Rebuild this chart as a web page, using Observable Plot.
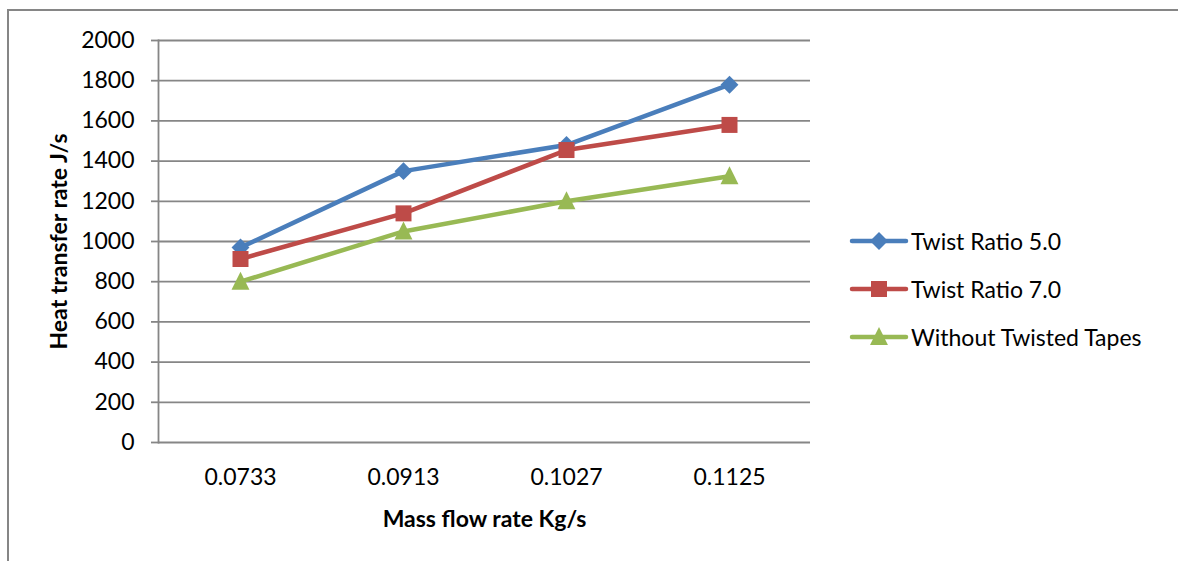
<!DOCTYPE html>
<html><head><meta charset="utf-8">
<script src="https://cdn.jsdelivr.net/npm/d3@7"></script>
<script src="https://cdn.jsdelivr.net/npm/@observablehq/plot@0.6"></script>
<style>
body{margin:0;background:#fff;}
#wrap{position:relative;width:1178px;height:561px;overflow:hidden;font-family:Lato,"Open Sans",sans-serif;}
#border{position:absolute;left:7px;top:9px;width:1190px;height:580px;border-top:2px solid #868686;border-left:2px solid #868686;}
#chart{position:absolute;left:0;top:0;}
#chart svg{overflow:visible;}
#legend{position:absolute;left:849px;top:217px;font-size:23px;color:#000;}
.item{display:flex;align-items:center;height:48px;}
.item svg{margin-right:2px;}
</style></head>
<body><div id="wrap"><div id="border"></div><div id="chart"></div><div id="legend"></div></div>
<script>
const categories = ["0.0733","0.0913","0.1027","0.1125"];
const seriesNames = ["Twist Ratio 5.0","Twist Ratio 7.0","Without Twisted Tapes"];
const twist5 = [970,1350,1480,1780];
const twist7 = [913,1140,1455,1580];
const withoutTapes = [800,1050,1200,1325];
const yTicks = [0,200,400,600,800,1000,1200,1400,1600,1800,2000];
const colors = ["#4a7ebb","#be4b48","#98b954"];
const xTitle = "Mass flow rate Kg/s";
const yTitle = "Heat transfer rate J/s";

const seriesValues = [twist5, twist7, withoutTapes];
const rows = seriesNames.flatMap((s,i)=>categories.map((c,j)=>({series:s, cat:c, value:seriesValues[i][j]})));

const diamond = {draw(ctx,size){const r=Math.sqrt(size/Math.PI)*1.12;ctx.moveTo(0,-r);ctx.lineTo(r,0);ctx.lineTo(0,r);ctx.lineTo(-r,0);ctx.closePath();}};
const square = {draw(ctx,size){const r=Math.sqrt(size/Math.PI);ctx.moveTo(-r,-r);ctx.lineTo(r,-r);ctx.lineTo(r,r);ctx.lineTo(-r,r);ctx.closePath();}};
const triangle = {draw(ctx,size){const r=Math.sqrt(size/Math.PI);ctx.moveTo(0,-r*1.25);ctx.lineTo(r*1.12,r*1.0);ctx.lineTo(-r*1.12,r*1.0);ctx.closePath();}};
const symbols = [diamond, square, triangle];

const chart = Plot.plot({
  width:1178, height:561,
  marginLeft:158, marginRight:368, marginTop:40, marginBottom:119,
  style:{fontFamily:"Lato, 'Open Sans', sans-serif", fontSize:"23px", color:"#000", background:"transparent"},
  x:{type:"point", domain:categories, padding:0.5},
  y:{domain:[0,2000]},
  color:{domain:seriesNames, range:colors},
  symbol:{domain:seriesNames, range:symbols},
  marks:[
    Plot.gridY(yTicks, {stroke:"#868686", strokeOpacity:1, strokeWidth:1.8}),
    Plot.frame({anchor:"left", stroke:"#868686", strokeWidth:1.8}),
    Plot.axisY(yTicks, {tickSize:7, tickPadding:17, stroke:"#868686", strokeWidth:1.8, fontSize:23, fill:"#000", tickFormat:"d", label:null}),
    Plot.axisX({tickSize:0, tickPadding:26, fontSize:23, fill:"#000", label:null}),
    Plot.text([yTitle], {frameAnchor:"left", textAnchor:"middle", rotate:-90, dx:-99, text:d=>d, fontSize:23, fontWeight:"bold", fill:"#000"}),
    Plot.text([xTitle], {frameAnchor:"bottom", dy:84, text:d=>d, fontSize:23, fontWeight:"bold", fill:"#000"}),
    Plot.line(rows, {x:"cat", y:"value", z:"series", stroke:"series", strokeWidth:4.5}),
    Plot.dot(rows, {x:"cat", y:"value", symbol:"series", fill:"series", r:8, stroke:"none"})
  ]
});
document.getElementById("chart").appendChild(chart);

const legend = d3.select("#legend");
seriesNames.forEach((s,i)=>{
  const item = legend.append("div").attr("class","item");
  const svg = item.append("svg").attr("width",60).attr("height",24);
  svg.append("line").attr("x1",3).attr("x2",57).attr("y1",12).attr("y2",12)
     .attr("stroke",colors[i]).attr("stroke-width",4.5).attr("stroke-linecap","round");
  const p = d3.path();
  symbols[i].draw(p, Math.PI*64);
  svg.append("path").attr("d",p.toString()).attr("transform","translate(30,12)").attr("fill",colors[i]);
  item.append("span").text(s);
});
</script></body></html>
